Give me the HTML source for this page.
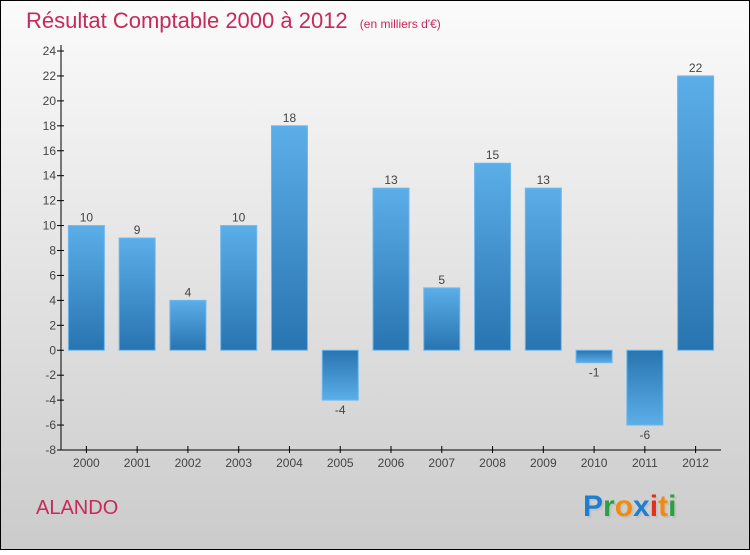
<!DOCTYPE html>
<html><head><meta charset="utf-8"><style>
html,body{margin:0;padding:0}
body{width:750px;height:550px;overflow:hidden;font-family:"Liberation Sans",sans-serif}
</style></head><body>
<svg width="750" height="550" viewBox="0 0 750 550">
<defs>
<linearGradient id="bg" x1="0" y1="0" x2="0" y2="1"><stop offset="0" stop-color="#fbfbfb"/><stop offset="1" stop-color="#cbcbcb"/></linearGradient>
<linearGradient id="pos" x1="0" y1="0" x2="0" y2="1"><stop offset="0" stop-color="#5caee8"/><stop offset="1" stop-color="#2874b0"/></linearGradient>
<linearGradient id="neg" x1="0" y1="0" x2="0" y2="1"><stop offset="0" stop-color="#2874b0"/><stop offset="1" stop-color="#5caee8"/></linearGradient>
</defs>
<rect x="0.5" y="0.5" width="749" height="549" fill="url(#bg)" stroke="#000"/>
<text x="26" y="28" font-size="22" fill="#c8285a">Résultat Comptable 2000 à 2012 <tspan font-size="12" dx="6">(en milliers d'€)</tspan></text>
<g id="axes"></g>
<g id="bars"></g>
<text x="36" y="514" font-size="20" fill="#c8285a">ALANDO</text>
<g font-size="30" font-weight="bold" font-family="Liberation Sans, sans-serif">
<text x="585" y="518" fill="#bbb" opacity="0.6">Proxiti</text>
<text x="583" y="516"><tspan fill="#1e7fd0">P</tspan><tspan fill="#2aa040">r</tspan><tspan fill="#f08a10">o</tspan><tspan fill="#1e7fd0">x</tspan><tspan fill="#e03020">i</tspan><tspan fill="#f08a10">t</tspan><tspan fill="#2aa040">i</tspan></text>
</g>
</svg>
<script>
const categories=["2000","2001","2002","2003","2004","2005","2006","2007","2008","2009","2010","2011","2012"];
const values=[10,9,4,10,18,-4,13,5,15,13,-1,-6,22];
const yTicks=[-8,-6,-4,-2,0,2,4,6,8,10,12,14,16,18,20,22,24];
const NS="http://www.w3.org/2000/svg";
const x0=61,x1=721,yTop=51,yBot=450,yMin=-8,yMax=24;
const y=v=>yBot-(v-yMin)*(yBot-yTop)/(yMax-yMin);
const band=(x1-x0)/categories.length;
const xc=i=>x0+band*(i+0.5);
function mk(t,a,p){const e=document.createElementNS(NS,t);for(const k in a)e.setAttribute(k,a[k]);p.appendChild(e);return e;}
const ax=document.getElementById('axes'),bg=document.getElementById('bars');
const yl=mk('line',{x1:x0,y1:yTop-6,x2:x0,y2:yBot,stroke:'#000','stroke-width':1},ax);


const xl=mk('line',{x1:x0,y1:yBot,x2:x1,y2:yBot,stroke:'#000','stroke-width':1},ax);


yTicks.forEach(v=>{
 mk('line',{x1:x0-4,y1:y(v),x2:x0+3,y2:y(v),stroke:'#000'},ax);
 const t=mk('text',{x:x0-5,y:y(v)+4,'font-size':12,fill:'#444','text-anchor':'end'},ax);
 t.textContent=v;
 
 
});
categories.forEach((c,i)=>{
 mk('line',{x1:xc(i),y1:yBot-4,x2:xc(i),y2:yBot+3,stroke:'#000'},ax);
 const t=mk('text',{x:xc(i),y:yBot+17,'font-size':12,fill:'#444','text-anchor':'middle'},ax);
 t.textContent=c;
 
 
 const v=values[i],top=Math.min(y(v),y(0)),h=Math.abs(y(v)-y(0));
 const r=mk('rect',{x:xc(i)-18,y:top,width:36,height:h,fill:v>=0?'url(#pos)':'url(#neg)',stroke:'#6cb8ee','stroke-width':1},bg);
 
 
 const l=mk('text',{x:xc(i),y:v>=0?y(v)-4:y(v)+14,'font-size':12,fill:'#444','text-anchor':'middle'},bg);
 l.textContent=v;
 
 
});
</script>
</body></html>
